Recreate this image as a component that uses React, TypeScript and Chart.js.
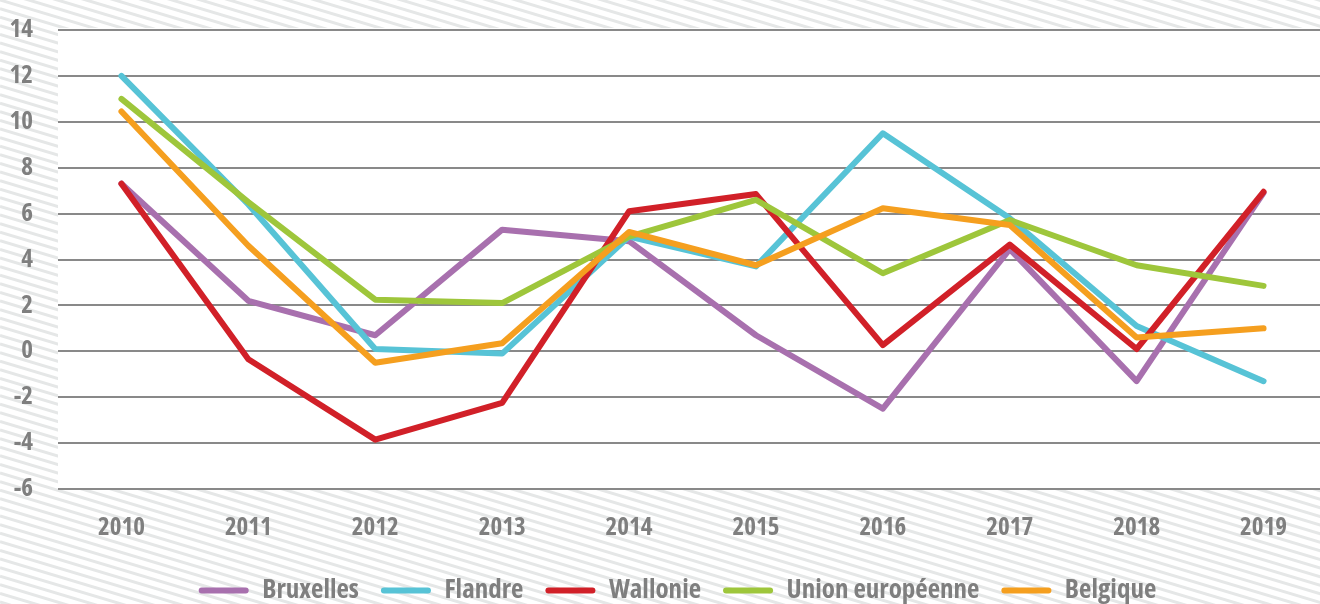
import React, { useEffect, useRef } from "react";
import { Chart, registerables } from "chart.js";

Chart.register(...registerables);

const years = ["2010", "2011", "2012", "2013", "2014", "2015", "2016", "2017", "2018", "2019"];
const bruxelles = [7.3, 2.2, 0.7, 5.3, 4.8, 0.7, -2.5, 4.45, -1.3, 6.9];
const flandre = [12.0, 6.4, 0.1, -0.1, 5.0, 3.7, 9.5, 5.8, 1.1, -1.3];
const wallonie = [7.3, -0.35, -3.85, -2.25, 6.1, 6.85, 0.27, 4.65, 0.1, 6.95];
const unionEuropeenne = [11.0, 6.5, 2.25, 2.1, 5.0, 6.6, 3.4, 5.72, 3.75, 2.85];
const belgique = [10.45, 4.6, -0.5, 0.35, 5.2, 3.75, 6.23, 5.5, 0.6, 1.0];
const yTicks = { min: -6, max: 14, step: 2 };

const seriesNames = ["Bruxelles", "Flandre", "Wallonie", "Union européenne", "Belgique"];
const seriesColors = ["#a870ae", "#57c3d6", "#d12028", "#9ec63b", "#f59f1f"];
const seriesValues = [bruxelles, flandre, wallonie, unionEuropeenne, belgique];

const FAMILY = "'Open Sans', 'Roboto', sans-serif";
const WEIGHT = "condensed bold";
const GRAY = "#7f7f7f";
const LEGEND_H = 49;
const LEGEND_SHIFT = 28;

const hatchPlugin = {
  id: "hatch",
  beforeLayout(chart: any) {
    const lg = chart.legend;
    if (lg && !lg._fixedH) {
      const orig = lg.fit.bind(lg);
      lg.fit = function () {
        orig();
        this.height = LEGEND_H;
      };
      lg._fixedH = true;
    }
  },
  afterLayout(chart: any) {
    const lg = chart.legend;
    if (lg) {
      lg.left += LEGEND_SHIFT;
    }
  },
  beforeDraw(chart: any) {
    const { ctx, width, height, chartArea } = chart;
    ctx.save();
    ctx.fillStyle = "#ffffff";
    ctx.fillRect(0, 0, width, height);
    ctx.strokeStyle = "#e5e7e7";
    ctx.lineWidth = 3;
    const slope = 0.3;
    const period = 8.6;
    const startK = -Math.ceil((slope * width) / period) - 2;
    const endK = Math.ceil(height / period) + 2;
    for (let k = startK; k <= endK; k++) {
      const y0 = k * period;
      ctx.beginPath();
      ctx.moveTo(0, y0);
      ctx.lineTo(width, y0 + slope * width);
      ctx.stroke();
    }
    ctx.fillStyle = "#ffffff";
    ctx.fillRect(chartArea.left, chartArea.top - 2, width - chartArea.left, chartArea.bottom - chartArea.top + 2);
    ctx.restore();
  },
};

export default function App() {
  const ref = useRef<HTMLCanvasElement | null>(null);

  useEffect(() => {
    document.body.style.margin = "0";
    document.documentElement.style.overflow = "hidden";
    const canvas = ref.current;
    if (!canvas) return;
    const order = [4, 3, 2, 1, 0];
    const datasets = order.map((i) => ({
      label: seriesNames[i],
      data: seriesValues[i],
      borderColor: seriesColors[i],
      backgroundColor: seriesColors[i],
      borderWidth: 6,
      pointRadius: 0,
      pointHoverRadius: 0,
      tension: 0,
      borderCapStyle: "round" as const,
      borderJoinStyle: "round" as const,
      fill: false,
    }));
    const chart = new Chart(canvas, {
      type: "line",
      data: { labels: years, datasets },
      plugins: [hatchPlugin],
      options: {
        animation: false,
        responsive: false,
        layout: { padding: { top: 30, right: 0, bottom: 0, left: 0 } },
        scales: {
          x: {
            offset: true,
            grid: { display: false },
            border: { display: false },
            ticks: {
              color: GRAY,
              padding: 16,
              maxRotation: 0,
              font: { family: FAMILY, size: 25, weight: WEIGHT as any },
            },
            afterFit: (scale: any) => {
              scale.height = 66;
              scale.paddingLeft = 0;
              scale.paddingRight = 0;
            },
          },
          y: {
            min: yTicks.min,
            max: yTicks.max,
            grid: { color: "#898989", lineWidth: 2, drawTicks: false },
            border: { display: false },
            ticks: {
              stepSize: yTicks.step,
              color: GRAY,
              padding: 25,
              font: { family: FAMILY, size: 25, weight: WEIGHT as any },
            },
            afterFit: (scale: any) => {
              scale.width = 58;
              scale.paddingTop = 0;
              scale.paddingBottom = 0;
            },
          },
        },
        plugins: {
          tooltip: { enabled: false },
          legend: {
            position: "bottom",
            reverse: true,
            labels: {
              color: GRAY,
              boxWidth: 50,
              boxHeight: 6,
              useBorderRadius: true,
              borderRadius: 3,
              padding: 22,
              font: { family: FAMILY, size: 27, weight: WEIGHT as any },
              generateLabels: (c: any) =>
                Chart.defaults.plugins.legend.labels
                  .generateLabels(c)
                  .map((l: any) => ({ ...l, lineWidth: 0, fillStyle: l.strokeStyle })),
            },
          },
        },
      },
    });
    return () => chart.destroy();
  }, []);

  return (
    <div style={{ width: 1320, height: 604, overflow: "hidden", position: "relative" }}>
      <canvas ref={ref} width={1327} height={604} style={{ display: "block" }} />
    </div>
  );
}
